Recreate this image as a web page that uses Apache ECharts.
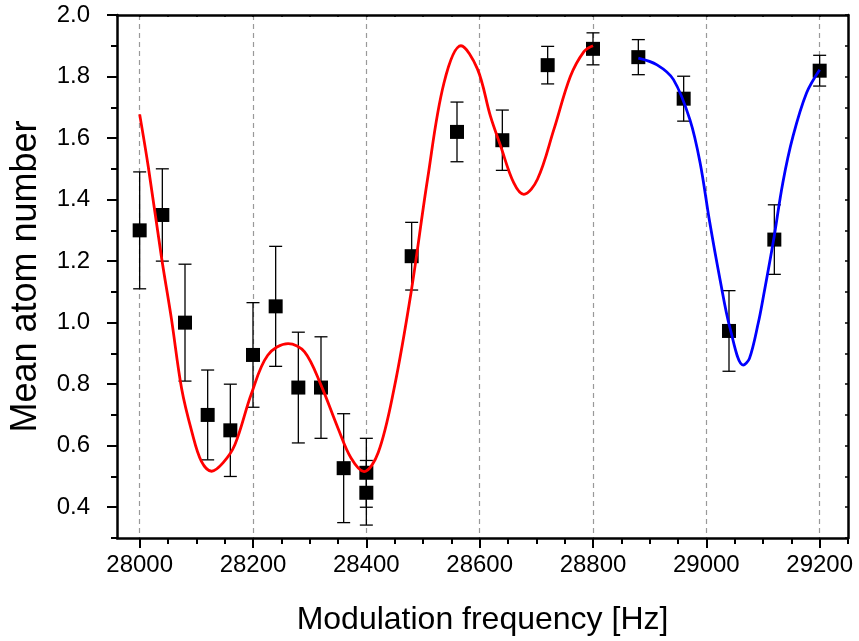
<!DOCTYPE html>
<html>
<head>
<meta charset="utf-8">
<script src="https://cdn.jsdelivr.net/npm/echarts@6/dist/echarts.min.js"></script>
<style>html,body{margin:0;padding:0;background:#fff}#c{width:859px;height:641px}</style>
</head>
<body>
<div id="c"></div>
<script>
// ---- data ----
const freqs = [28000,28040,28080,28120,28160,28200,28240,28280,28320,28360,28400,28400,28480,28560,28640,28720,28800,28880,28960,29040,29120,29200];
const atoms = [1.30,1.35,1.00,0.70,0.65,0.895,1.053,0.789,0.789,0.527,0.512,0.447,1.216,1.620,1.593,1.837,1.890,1.863,1.728,0.973,1.270,1.819];
const errors = [0.19,0.15,0.19,0.146,0.15,0.17,0.195,0.18,0.165,0.177,0.112,0.105,0.11,0.097,0.098,0.061,0.052,0.057,0.073,0.131,0.113,0.05];

const redFitX = [28000,28015,28039,28056,28074,28092,28109,28127,28147,28168,28197,28226,28262,28291,28320,28350,28373,28396,28421,28449,28479,28508,28537,28567,28596,28619,28637,28660,28678,28702,28731,28760,28784,28800];
const redFitY = [1.677,1.509,1.207,1.013,0.786,0.646,0.549,0.517,0.544,0.603,0.768,0.894,0.932,0.905,0.797,0.657,0.560,0.516,0.578,0.786,1.099,1.466,1.779,1.900,1.825,1.671,1.574,1.455,1.417,1.466,1.628,1.800,1.881,1.900];

const blueFitX = [28880,28913,28942,28971,28989,29006,29024,29042,29065,29076,29092,29100,29118,29135,29153,29177,29200];
const blueFitY = [1.860,1.838,1.790,1.660,1.520,1.326,1.142,0.981,0.862,0.883,1.002,1.078,1.261,1.455,1.606,1.747,1.822];

const xMajorTicks = [28000,28200,28400,28600,28800,29000,29200];
const xMinorTicks = [28050,28100,28150,28250,28300,28350,28450,28500,28550,28650,28700,28750,28850,28900,28950,29050,29100,29150,29250];
const yMajorTicks = [0.4,0.6,0.8,1.0,1.2,1.4,1.6,1.8,2.0];
const yMinorTicks = [0.3,0.5,0.7,0.9,1.1,1.3,1.5,1.7,1.9];

const X_MIN = 27960, X_MAX = 29250, Y_MIN = 0.3, Y_MAX = 2.0;
const FONT = '"Liberation Sans", Arial, sans-serif';

const points = freqs.map((f, i) => [f, atoms[i]]);
const bars = freqs.map((f, i) => [f, atoms[i] - errors[i], atoms[i] + errors[i]]);
const red = redFitX.map((x, i) => [x, redFitY[i]]);
const blue = blueFitX.map((x, i) => [x, blueFitY[i]]);

const chart = echarts.init(document.getElementById('c'), null, {renderer: 'canvas'});
const axisLineStyle = {color: '#000', width: 2.5};
const hidden = {show: false};

chart.setOption({
  animation: false,
  backgroundColor: '#fff',
  grid: {left: 116, right: 11, top: 15, bottom: 101, containLabel: false},
  xAxis: [
    {
      type: 'value', min: X_MIN, max: X_MAX, position: 'bottom',
      axisLine: {show: true, lineStyle: axisLineStyle, onZero: false},
      axisTick: {show: true, customValues: xMajorTicks, length: 10, inside: false, lineStyle: {color: '#000', width: 2}},
      axisLabel: {customValues: xMajorTicks, margin: 15, fontSize: 24, color: '#000', fontFamily: FONT,
        formatter: v => String(v)},
      splitLine: {show: true, lineStyle: {color: '#999', type: [5, 4], width: 1.2}},
      name: 'Modulation frequency [Hz]', nameLocation: 'middle', nameGap: 66,
      nameTextStyle: {fontSize: 32, color: '#000', fontFamily: FONT}
    },
    {
      type: 'value', min: X_MIN, max: X_MAX, position: 'bottom',
      axisLine: {show: false, onZero: false},
      axisTick: {show: true, customValues: xMinorTicks, length: 6, lineStyle: {color: '#000', width: 2}},
      axisLabel: hidden, splitLine: hidden
    },
    {
      type: 'value', min: X_MIN, max: X_MAX, position: 'top',
      axisLine: {show: true, lineStyle: axisLineStyle, onZero: false},
      axisTick: {show: true, inside: true, customValues: xMajorTicks.concat(xMinorTicks), length: 2, lineStyle: {color: '#000', width: 1.5}},
      axisLabel: hidden, splitLine: hidden
    }
  ],
  yAxis: [
    {
      type: 'value', min: Y_MIN, max: Y_MAX, position: 'left',
      axisLine: {show: true, lineStyle: axisLineStyle, onZero: false},
      axisTick: {show: true, customValues: yMajorTicks, length: 10, lineStyle: {color: '#000', width: 2}},
      axisLabel: {customValues: yMajorTicks, margin: 27, fontSize: 24, color: '#000', fontFamily: FONT,
        formatter: v => v.toFixed(1)},
      splitLine: hidden,
      name: 'Mean atom number', nameLocation: 'middle', nameGap: 73,
      nameTextStyle: {fontSize: 36, color: '#000', fontFamily: FONT}
    },
    {
      type: 'value', min: Y_MIN, max: Y_MAX, position: 'left',
      axisLine: {show: false, onZero: false},
      axisTick: {show: true, customValues: yMinorTicks, length: 6, lineStyle: {color: '#000', width: 2}},
      axisLabel: hidden, splitLine: hidden
    },
    {
      type: 'value', min: Y_MIN, max: Y_MAX, position: 'right',
      axisLine: {show: true, lineStyle: axisLineStyle, onZero: false},
      axisTick: {show: true, inside: true, customValues: yMajorTicks.concat(yMinorTicks), length: 3, lineStyle: {color: '#000', width: 1.5}},
      axisLabel: hidden, splitLine: hidden
    }
  ],
  series: [
    {
      type: 'custom', xAxisIndex: 0, yAxisIndex: 0, z: 2,
      data: bars,
      renderItem: function (params, api) {
        const x = api.value(0);
        const lo = api.coord([x, api.value(1)]);
        const hi = api.coord([x, api.value(2)]);
        const cap = 6.5;
        const st = {stroke: '#000', lineWidth: 1.3};
        return {
          type: 'group',
          children: [
            {type: 'line', shape: {x1: lo[0], y1: lo[1], x2: hi[0], y2: hi[1]}, style: st},
            {type: 'line', shape: {x1: lo[0] - cap, y1: lo[1], x2: lo[0] + cap, y2: lo[1]}, style: st},
            {type: 'line', shape: {x1: hi[0] - cap, y1: hi[1], x2: hi[0] + cap, y2: hi[1]}, style: st}
          ]
        };
      }
    },
    {
      type: 'scatter', xAxisIndex: 0, yAxisIndex: 0, z: 3,
      data: points, symbol: 'rect', symbolSize: 14,
      itemStyle: {color: '#000', opacity: 1}
    },
    {
      type: 'line', xAxisIndex: 0, yAxisIndex: 0, z: 4,
      data: red, smooth: 0.35, showSymbol: false, symbol: 'none',
      lineStyle: {color: '#ff0000', width: 2.8}
    },
    {
      type: 'line', xAxisIndex: 0, yAxisIndex: 0, z: 4,
      data: blue, smooth: 0.35, showSymbol: false, symbol: 'none',
      lineStyle: {color: '#0000ff', width: 2.8}
    }
  ]
});
</script>
</body>
</html>
